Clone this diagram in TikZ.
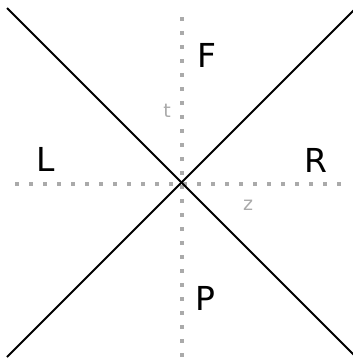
\documentclass[tikz,border=0pt]{standalone}
\usepackage{fontspec}
\setmainfont{DejaVu Sans}
\definecolor{dotgray}{RGB}{170,170,170}
\begin{document}
\begin{tikzpicture}[x=1pt,y=-1pt,
  axis/.style={dotgray,line width=3.2pt,dash pattern=on 3.2pt off 10.8pt},
  cone/.style={black,line width=1.8pt},
  region/.style={font=\fontsize{33}{33}\selectfont,inner sep=0pt},
  axlabel/.style={dotgray,font=\fontsize{19}{19}\selectfont,inner sep=0pt}]
\useasboundingbox (0,0) rectangle (353,362);
\coordinate (vt) at (182,17.4);
\coordinate (vb) at (182,361);
\coordinate (hl) at (15.4,184);
\coordinate (hr) at (345,184);
\coordinate (a1) at (7,8);
\coordinate (a2) at (361,362);
\coordinate (b1) at (7,357);
\coordinate (b2) at (361,3);
\draw[axis] (vt) -- (vb);
\draw[axis] (hl) -- (hr);
\draw[cone] (a1) -- (a2);
\draw[cone] (b1) -- (b2);
\node[region] (F) at (207,55) {F};
\node[region] (L) at (46,159) {L};
\node[region] (R) at (316,160) {R};
\node[region] (P) at (205,298) {P};
\node[axlabel] (t) at (167,111) {t};
\node[axlabel] (z) at (248,205) {z};
\end{tikzpicture}
\end{document}
